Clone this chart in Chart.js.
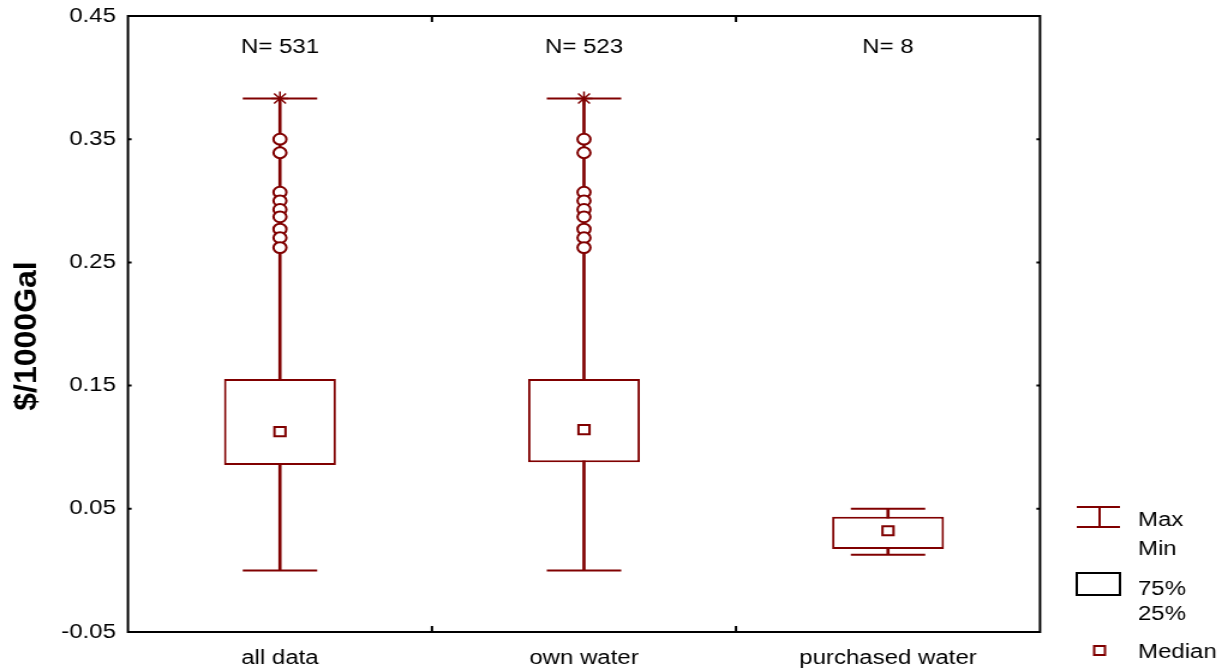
<!DOCTYPE html>
<html>
<head>
<meta charset="utf-8">
<script src="https://cdn.jsdelivr.net/npm/chart.js"></script>
<style>
  html, body { margin: 0; padding: 0; background: #fff; overflow: hidden; }
  /* the original picture is drawn wide, so the chart is stretched sideways */
  #wrap { width: 1023px; height: 672px; transform: scaleX(1.2004); transform-origin: 0 0; }
</style>
</head>
<body>
<div id="wrap"><canvas id="myChart"></canvas></div>
<script>
const groups = ['all data', 'own water', 'purchased water'];
const counts = [531, 523, 8];
const mins = [0.0, 0.0, 0.0127];
const q1s = [0.0856, 0.0877, 0.0174];
const medians = [0.1126, 0.1142, 0.0322];
const q3s = [0.1554, 0.1554, 0.0436];
const maxs = [0.383, 0.383, 0.050];
const extremes = [0.383, 0.383, null];
const outliersAll = [0.350, 0.339, 0.307, 0.300, 0.293, 0.287, 0.277, 0.270, 0.262];
const outliersOwn = [0.350, 0.339, 0.307, 0.300, 0.293, 0.287, 0.277, 0.270, 0.262];
const yTicks = [-0.05, 0.05, 0.15, 0.25, 0.35, 0.45];

const maroon = '#800000';
const fontFamily = '"Liberation Sans", Arial, sans-serif';

const outlierPoints = outliersAll.map(v => ({ x: groups[0], y: v }))
  .concat(outliersOwn.map(v => ({ x: groups[1], y: v })));

const extras = {
  id: 'extras',
  afterDatasetsDraw(chart) {
    const ctx = chart.ctx;
    const a = chart.chartArea;
    const x = chart.scales.x;
    const y = chart.scales.y;
    ctx.save();

    // frame with small inward ticks
    ctx.strokeStyle = '#000';
    ctx.lineWidth = 2;
    ctx.strokeRect(a.left, a.top, a.right - a.left, a.bottom - a.top);
    ctx.beginPath();
    yTicks.forEach(v => {
      const py = y.getPixelForValue(v);
      ctx.moveTo(a.left, py); ctx.lineTo(a.left + 3, py);
      ctx.moveTo(a.right, py); ctx.lineTo(a.right - 3, py);
    });
    for (let i = 0; i < groups.length - 1; i++) {
      const px = (x.getPixelForValue(i) + x.getPixelForValue(i + 1)) / 2;
      ctx.moveTo(px, a.top); ctx.lineTo(px, a.top + 6);
      ctx.moveTo(px, a.bottom); ctx.lineTo(px, a.bottom - 6);
    }
    ctx.stroke();

    // N= labels
    ctx.fillStyle = '#000';
    ctx.font = '20px ' + fontFamily;
    ctx.textAlign = 'center';
    ctx.textBaseline = 'middle';
    counts.forEach((n, i) => ctx.fillText('N= ' + n, x.getPixelForValue(i), 47));

    // y title (narrow, tall letters as in the original)
    ctx.save();
    ctx.translate(22.5, 336);
    ctx.rotate(-Math.PI / 2);
    ctx.scale(1.23, 1);
    ctx.font = 'bold 26px ' + fontFamily;
    ctx.fillText('$/1000Gal', 0, 0);
    ctx.restore();

    // legend
    const lx0 = 897, lx1 = 933, lxc = 916, tx = 948;
    ctx.strokeStyle = maroon;
    ctx.lineWidth = 2;
    ctx.beginPath();
    ctx.moveTo(lx0, 507); ctx.lineTo(lx1, 507);
    ctx.moveTo(lx0, 527); ctx.lineTo(lx1, 527);
    ctx.moveTo(lxc, 507); ctx.lineTo(lxc, 527);
    ctx.stroke();
    ctx.strokeRect(lxc - 4.5, 646, 9, 9);
    ctx.strokeStyle = '#000';
    ctx.strokeRect(lx0, 573, lx1 - lx0, 22);
    ctx.textAlign = 'left';
    ctx.font = '20px ' + fontFamily;
    ctx.fillText('Max', tx, 520);
    ctx.fillText('Min', tx, 549);
    ctx.fillText('75%', tx, 589);
    ctx.fillText('25%', tx, 614);
    ctx.fillText('Median', tx, 652);
    ctx.restore();
  }
};

const grafico = document.getElementById('myChart');

const myChart = new Chart(grafico, {
  type: 'bar',
  data: {
    labels: groups,
    datasets: [
      {
        label: 'whisker',
        data: groups.map((g, i) => [mins[i], maxs[i]]),
        backgroundColor: maroon,
        barThickness: 2,
        grouped: false,
        order: 10
      },
      {
        label: 'box',
        data: groups.map((g, i) => [q1s[i], q3s[i]]),
        backgroundColor: '#fff',
        borderColor: maroon,
        borderWidth: 2,
        borderSkipped: false,
        barPercentage: 0.368,
        categoryPercentage: 1,
        grouped: false,
        order: 9
      },
      {
        type: 'line',
        label: 'min',
        data: mins,
        showLine: false,
        pointStyle: 'line',
        pointRadius: 31,
        pointBorderWidth: 2,
        pointBorderColor: maroon,
        order: 8
      },
      {
        type: 'line',
        label: 'max',
        data: maxs,
        showLine: false,
        pointStyle: 'line',
        pointRadius: 31,
        pointBorderWidth: 2,
        pointBorderColor: maroon,
        order: 7
      },
      {
        type: 'line',
        label: 'outliers',
        data: outlierPoints,
        showLine: false,
        pointStyle: 'circle',
        pointRadius: 5.4,
        pointBackgroundColor: '#fff',
        pointBorderColor: maroon,
        pointBorderWidth: 2,
        order: 3
      },
      {
        type: 'line',
        label: 'median',
        data: medians,
        showLine: false,
        pointStyle: 'rect',
        pointRadius: 6.5,
        pointBackgroundColor: '#fff',
        pointBorderColor: maroon,
        pointBorderWidth: 2,
        order: 2
      },
      {
        type: 'line',
        label: 'extremes',
        data: extremes,
        showLine: false,
        pointStyle: 'star',
        pointRadius: 7,
        pointBorderColor: maroon,
        pointBorderWidth: 1.5,
        order: 1
      }
    ]
  },
  options: {
    responsive: true,
    maintainAspectRatio: false,
    animation: false,
    layout: { autoPadding: false, padding: { top: 16, right: 156.6, bottom: 0, left: 0 } },
    plugins: {
      legend: { display: false },
      tooltip: { enabled: false }
    },
    scales: {
      x: {
        grid: { display: false, drawTicks: false },
        border: { display: false },
        ticks: { color: '#000', padding: 14, font: { family: fontFamily, size: 20 } },
        afterFit(scale) { scale.height = 40; }
      },
      y: {
        min: -0.05,
        max: 0.45,
        grid: { display: false, drawTicks: false },
        border: { display: false },
        afterBuildTicks(scale) { scale.ticks = yTicks.map(v => ({ value: v })); },
        ticks: {
          color: '#000',
          padding: 10,
          font: { family: fontFamily, size: 20 },
          callback: v => v.toFixed(2)
        },
        afterFit(scale) {
          scale.width = 106.6;
          scale.paddingTop = 0;
          scale.paddingBottom = 0;
        }
      }
    }
  },
  plugins: [extras]
});
</script>
</body>
</html>
